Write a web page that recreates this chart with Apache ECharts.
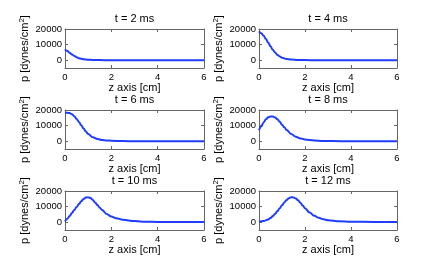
<!DOCTYPE html>
<html><head><meta charset="utf-8">
<script src="https://cdn.jsdelivr.net/npm/echarts@6/dist/echarts.min.js"></script>
<style>html,body{margin:0;padding:0;background:#fff}#c{width:438px;height:271px}</style>
</head><body><div id="c"></div>
<script>
// ---- data ----
const titles = ['t = 2 ms', 't = 4 ms', 't = 6 ms', 't = 8 ms', 't = 10 ms', 't = 12 ms'];
const xTicks = [0, 2, 4, 6];
const yTicks = [0, 10000, 20000];

const z2 = [0,0.1,0.2,0.3,0.4,0.5,0.6,0.7,0.8,1.0,1.2,1.5,2,3,4,5,6];
const p2 = [7000,5900,4800,3700,2700,1900,1300,900,600,300,150,50,0,0,0,0,0];

const z4 = [0,0.1,0.2,0.3,0.4,0.5,0.6,0.7,0.8,0.9,1.0,1.2,1.4,1.7,2,2.5,3,4,5,6];
const p4 = [18500,17300,15700,13600,11300,8900,6700,4900,3400,2400,1600,800,400,150,50,0,0,0,0,0];

const z6 = [0,0.1,0.2,0.3,0.4,0.5,0.6,0.7,0.8,0.9,1.0,1.2,1.4,1.6,1.8,2.0,2.5,3,4,5,6];
const p6 = [18300,18200,18000,17300,16000,14300,12300,10200,8100,6200,4600,2500,1400,800,500,300,80,0,0,0,0];

const z8 = [0,0.1,0.2,0.3,0.4,0.5,0.6,0.7,0.8,0.9,1.0,1.1,1.2,1.4,1.6,1.8,2.0,2.4,2.8,3.2,4,5,6];
const p8 = [7000,9500,12000,14000,15300,15900,15900,15200,14000,12400,10600,8900,7200,4600,2900,1800,1100,500,200,50,0,0,0];

const z10 = [0,0.1,0.2,0.3,0.4,0.5,0.6,0.7,0.8,0.9,1.0,1.1,1.2,1.3,1.4,1.5,1.6,1.8,2.0,2.2,2.5,3.0,3.5,4,5,6];
const p10 = [500,2200,4000,5900,7800,9700,11600,13400,14900,15800,16000,15500,14300,12700,11000,9300,7800,5300,3700,2600,1600,700,350,200,100,100];

const z12 = [0,0.2,0.4,0.5,0.6,0.7,0.8,0.9,1.0,1.1,1.2,1.3,1.4,1.5,1.6,1.7,1.8,1.9,2.0,2.2,2.4,2.6,2.8,3.0,3.5,4,5,6];
const p12 = [300,700,1800,2700,3900,5400,7100,8900,10800,12600,14200,15400,16000,15900,15200,14000,12400,10700,9000,6200,4200,2800,1900,1300,600,300,150,100];

const zs = [z2, z4, z6, z8, z10, z12];
const ps = [p2, p4, p6, p8, p10, p12];

// ---- layout ----
const FONT = 'Liberation Sans, Arial, sans-serif';
const colLeft = [65, 259], colWidth = [139, 138];
const rowTop = [29, 110, 191], H = 39;
const axisCol = '#666';

const grids = [], xAxes = [], yAxes = [], series = [], graphics = [];
for (let i = 0; i < 6; i++) {
  const r = Math.floor(i / 2), c = i % 2;
  grids.push({left: colLeft[c], top: rowTop[r], width: colWidth[c], height: H, show: false});
  const xBase = {gridIndex: i, type: 'value', min: 0, max: 6, interval: 2,
    splitLine: {show: false},
    axisLine: {show: true, onZero: false, lineStyle: {color: axisCol, width: 1}},
    axisTick: {show: true, inside: true, length: 3, lineStyle: {color: axisCol}}};
  xAxes.push(Object.assign({}, xBase, {position: 'bottom',
    axisLabel: {show: true, margin: 4, fontSize: 9.5, color: '#000', fontFamily: FONT,
      formatter: v => String(v)},
    name: 'z axis [cm]', nameLocation: 'middle', nameGap: 14,
    nameTextStyle: {fontSize: 11, color: '#000', fontFamily: FONT}}));
  xAxes.push(Object.assign({}, xBase, {position: 'top', axisLabel: {show: false}}));
  const yBase = {gridIndex: i, type: 'value', min: -5000, max: 20000,
    splitLine: {show: false},
    axisLine: {show: true, onZero: false, lineStyle: {color: axisCol, width: 1}},
    axisTick: {show: true, inside: true, length: 3, customValues: yTicks, lineStyle: {color: axisCol}}};
  yAxes.push(Object.assign({}, yBase, {position: 'left',
    axisLabel: {show: true, margin: 3, fontSize: 9.5, color: '#000', fontFamily: FONT,
      customValues: yTicks, formatter: v => String(v)},
    name: 'p [dynes/cm{s|2}]', nameLocation: 'middle', nameRotate: 90, nameGap: 31,
    nameTextStyle: {fontSize: 11, color: '#000', fontFamily: FONT, lineHeight: 14,
      rich: {s: {fontSize: 8, verticalAlign: 'top', lineHeight: 14, color: '#000', fontFamily: FONT}}}}));
  yAxes.push(Object.assign({}, yBase, {position: 'right', axisLabel: {show: false}}));
  series.push({type: 'line', xAxisIndex: 2 * i, yAxisIndex: 2 * i,
    data: zs[i].map((z, k) => [z, ps[i][k]]),
    showSymbol: false, symbol: 'none', smooth: 0.4, smoothMonotone: 'x',
    lineStyle: {color: '#1f3cff', width: 2}, silent: true, animation: false});
  graphics.push({type: 'text', x: colLeft[c] + colWidth[c] / 2, y: rowTop[r] - 10,
    style: {text: titles[i], fontSize: 11, fill: '#000', fontFamily: FONT,
      align: 'center', verticalAlign: 'middle'}});
}

const chart = echarts.init(document.getElementById('c'));
chart.setOption({
  animation: false,
  backgroundColor: '#fff',
  grid: grids, xAxis: xAxes, yAxis: yAxes, series: series, graphic: graphics
});
</script></body></html>
